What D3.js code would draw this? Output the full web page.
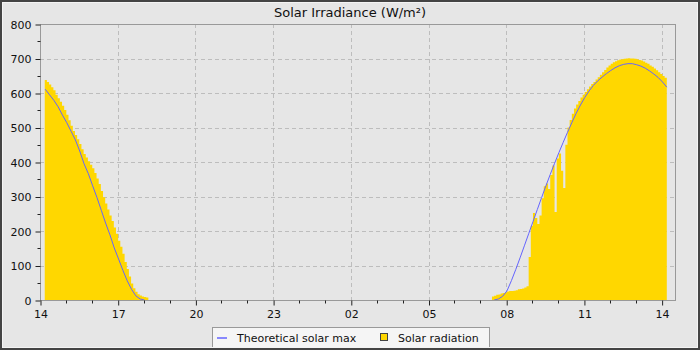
<!DOCTYPE html>
<html><head><meta charset="utf-8">
<script src="https://cdn.jsdelivr.net/npm/d3@7"></script>
<style>
html,body{margin:0;padding:0;background:#e6e6e6;}
svg{display:block;font-family:"DejaVu Sans",sans-serif;}
</style>
</head><body>
<svg id="chart" width="700" height="350"></svg>
<script>
// ---------- data ----------
const titleText = "Solar Irradiance (W/m²)";
const seriesNames = ["Theoretical solar max", "Solar radiation"];
const xTickLabels = ["14", "17", "20", "23", "02", "05", "08", "11", "14"];
const yTickValues = [0, 100, 200, 300, 400, 500, 600, 700, 800];

// Solar radiation, 5-minute samples, afternoon of day 1
const radiationPMStart = "14:11";
const radiationPM = [638,632,625,617,608,595,585,575,563,551,537,521,505,490,478,466,452,437,423,413,
  402,392,382,368,352,336,316,298,280,262,245,229,210,192,172,154,134,110,90,68,48,34,24,17,13,10,9,7];

// Solar radiation, 5-minute samples, morning of day 2
const radiationAMStart = "07:27";
const radiationAM = [10,12,15,16,19,20,22,25,26,26,
  27,28,31,32,33,36,40,125,215,252,
  238,220,245,295,330,338,322,362,390,255,
  410,425,375,325,450,500,522,540,555,567,
  577,587,595,603,611,619,626,632,639,646,
  653,660,667,674,680,685,689,692,695,697,
  698,699,700,701,700,700,699,698,696,694,
  691,688,685,680,676,671,666,660,655,649,
  644];

// Theoretical solar max, 10-minute samples
const theoreticalPMStart = "14:12";
const theoreticalPM = [611,595,579,560,536,514,489,464,432,395,366,331,297,260,223,189,151,119,86,56,31,12,3,0];
const theoreticalAMStart = "07:32";
const theoreticalAM = [0,3,11,27,56,88,122,157,192,227,262,297,331,364,396,427,457,486,514,541,
  565,587,606,622,635,646,656,665,673,679,683,685,685,682,678,672,664,655,645,632,617];

// ---------- helpers ----------
function toHours(hhmm, day) {
  const [h, m] = hhmm.split(":").map(Number);
  return day * 24 + h + m / 60 - 14;
}
function build(start, day, stepMin, values) {
  const t0 = toHours(start, day);
  return values.map((v, i) => ({ t: t0 + i * stepMin / 60, v }));
}

const radPM = build(radiationPMStart, 0, 5, radiationPM);
const radAM = build(radiationAMStart, 1, 5, radiationAM);
const thPM = build(theoreticalPMStart, 0, 10, theoreticalPM);
const thAM = build(theoreticalAMStart, 1, 10, theoreticalAM);

// ---------- layout ----------
const W = 700, H = 350;
const M = { left: 40, right: 675, top: 24, bottom: 300 };
const svg = d3.select("#chart");

const x = d3.scaleLinear().domain([0, 24 + 31 / 60]).range([M.left, M.right]);
const y = d3.scaleLinear().domain([0, 800]).range([M.bottom, M.top]);

svg.append("rect").attr("x", 0).attr("y", 0).attr("width", W).attr("height", H).attr("fill", "#e6e6e6");

// grid
const grid = svg.append("g").attr("stroke", "#bdbdbd").attr("stroke-dasharray", "4,3").attr("stroke-width", 1);
yTickValues.filter(v => v > 0 && v < 800).forEach(v => {
  grid.append("line").attr("x1", M.left).attr("x2", M.right)
    .attr("y1", Math.round(y(v)) + 0.5).attr("y2", Math.round(y(v)) + 0.5);
});
xTickLabels.forEach((lab, i) => {
  const xv = Math.round(x(i * 3)) + 0.5;
  if (i === 0) return;
  grid.append("line").attr("x1", xv).attr("x2", xv).attr("y1", M.top).attr("y2", M.bottom);
});

// bars (step area)
function stepArea(data, stepMin) {
  const last = data[data.length - 1];
  const pts = data.concat([{ t: last.t + stepMin / 60, v: last.v }]);
  return d3.area().curve(d3.curveStepAfter)
    .x(d => x(d.t)).y0(y(0)).y1(d => y(d.v))(pts);
}
svg.append("path").attr("d", stepArea(radPM, 5)).attr("fill", "#ffd700");
svg.append("path").attr("d", stepArea(radAM, 5)).attr("fill", "#ffd700");

// theoretical line
const line = d3.line().x(d => x(d.t)).y(d => y(d.v));
[thPM, thAM].forEach(d => {
  svg.append("path").attr("d", line(d)).attr("fill", "none")
    .attr("stroke", "#6464ff").attr("stroke-width", 1);
});

// frame
svg.append("rect").attr("x", M.left + 0.5).attr("y", M.top + 0.5)
  .attr("width", M.right - M.left).attr("height", M.bottom - M.top)
  .attr("fill", "none").attr("stroke", "#999").attr("stroke-width", 1);

// y axis
const yAxis = d3.axisLeft(y).tickValues(yTickValues).tickSize(5).tickPadding(4).tickFormat(d3.format("d"));
const gy = svg.append("g").attr("transform", `translate(${M.left + 0.5},0.5)`).call(yAxis);
gy.select(".domain").remove();
gy.selectAll("text").attr("font-size", 11).attr("font-family", "DejaVu Sans").attr("fill", "#111");
gy.selectAll("line").attr("stroke", "#222");
const yMinor = d3.range(50, 800, 100);
svg.append("g").selectAll("line").data(yMinor).join("line")
  .attr("x1", M.left - 2.5).attr("x2", M.left + 0.5)
  .attr("y1", d => Math.round(y(d)) + 0.5).attr("y2", d => Math.round(y(d)) + 0.5)
  .attr("stroke", "#222");

// x axis
const xMajor = xTickLabels.map((_, i) => i * 3);
const xAxis = d3.axisBottom(x).tickValues(xMajor).tickSize(5).tickPadding(5)
  .tickFormat((d, i) => xTickLabels[i]);
const gx = svg.append("g").attr("transform", `translate(0.5,${M.bottom + 0.5})`).call(xAxis);
gx.select(".domain").remove();
gx.selectAll("text").attr("font-size", 11).attr("font-family", "DejaVu Sans").attr("fill", "#111");
gx.selectAll("line").attr("stroke", "#222");
const xMinor = d3.range(0, 25).filter(h => h % 3 !== 0);
svg.append("g").selectAll("line").data(xMinor).join("line")
  .attr("x1", d => Math.round(x(d)) + 0.5).attr("x2", d => Math.round(x(d)) + 0.5)
  .attr("y1", M.bottom + 0.5).attr("y2", M.bottom + 3.5)
  .attr("stroke", "#222");

// title
svg.append("text").attr("x", 350).attr("y", 16.5).attr("text-anchor", "middle")
  .attr("font-size", 13).attr("fill", "#111").text(titleText);

// legend
const lg = svg.append("g");
lg.append("rect").attr("x", 212.5).attr("y", 327.5).attr("width", 277).attr("height", 24)
  .attr("fill", "#f5f5f5").attr("stroke", "#999");
lg.append("line").attr("x1", 217).attr("x2", 227).attr("y1", 338).attr("y2", 338)
  .attr("stroke", "#6464ff").attr("stroke-width", 1.5);
lg.append("text").attr("x", 237).attr("y", 341.5).attr("font-size", 11).attr("fill", "#111").text(seriesNames[0]);
lg.append("rect").attr("x", 380.5).attr("y", 333.5).attr("width", 7).attr("height", 7)
  .attr("fill", "#ffd700").attr("stroke", "#444");
lg.append("text").attr("x", 398).attr("y", 341.5).attr("font-size", 11).attr("fill", "#111").text(seriesNames[1]);

// outer border
svg.append("rect").attr("x", 1).attr("y", 1).attr("width", W - 2).attr("height", H - 2)
  .attr("fill", "none").attr("stroke", "#444").attr("stroke-width", 2);
svg.append("rect").attr("x", 2.5).attr("y", 2.5).attr("width", W - 5).attr("height", H - 5)
  .attr("fill", "none").attr("stroke", "#f4f4f4").attr("stroke-width", 1);
</script>
</body></html>
